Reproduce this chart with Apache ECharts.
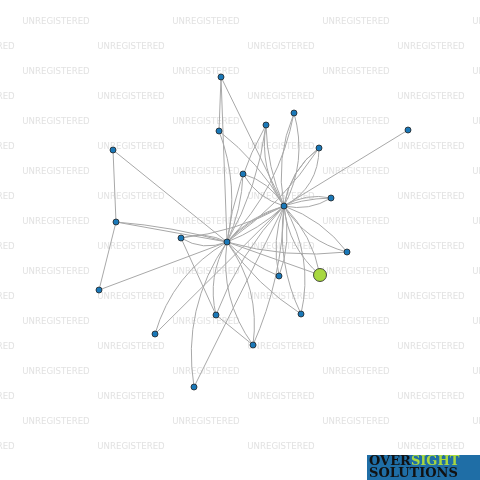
<!DOCTYPE html>
<html><head><meta charset="utf-8">
<script src="https://cdn.jsdelivr.net/npm/echarts@6/dist/echarts.min.js"></script>
<style>html,body{margin:0;background:#fff}#c{width:480px;height:480px}</style>
</head><body><div id="c"></div>
<script>
// node names and positions (pixel space of the picture)
var nodeNames = ['A','B','C','D','E','F','G','H','I','J','K','L','M','N','O','P','Q','R','S','T','U','V'];
var nodeX = [221,219,266,294,319,408,113,243,331,284,116,181,227,347,279,320,99,301,216,155,253,194];
var nodeY = [77,131,125,113,148,130,150,174,198,206,222,238,242,252,276,275,290,314,315,334,345,387];
var edgeList = [
  ['A','M'],['A','J'],['A','B'],['B','M'],['B','J'],['C','M'],['C','J'],['D','M'],['D','J'],
  ['E','M'],['E','J'],['F','J'],['G','K'],['G','M'],['H','J'],['H','M'],['I','J'],['I','M'],
  ['K','M'],['K','Q'],['L','M'],['L','J'],['L','S'],['N','J'],['N','M'],['O','J'],['O','M'],
  ['P','J'],['P','M'],['Q','M'],['R','J'],['R','M'],['S','J'],['S','M'],['T','M'],['T','J'],
  ['U','M'],['U','J'],['U','S'],['V','M'],['V','J'],['J','M'],
  ['C','J'],['D','J'],['E','J'],['E','J'],['I','J'],['H','J'],['O','J'],['P','J'],['R','J'],
  ['N','J'],['L','M'],['K','M'],['J','M'],['U','M'],['C','M']
];
var curves = [0,0,0,0.15,0.1,0.1,-0.1,0.15,0.2,0.1,-0.2,0,0,0,0.2,0.1,0.2,-0.2,0,0,0.2,-0.1,0,-0.15,0.1,0.15,0.1,0.2,0,0,0.15,0.1,0.1,0.2,0.2,0,0.2,-0.1,0,0.2,0,0.1,
  -0.2,-0.15,-0.2,0.3,-0.2,-0.2,-0.15,-0.15,-0.2,0.2,-0.25,0.05,-0.15,-0.2,-0.1];

var dom = document.getElementById('c');
var myChart = echarts.init(dom);

var nodes = nodeNames.map(function (n, i) {
  var big = n === 'P';
  return {
    name: n, value: [nodeX[i], nodeY[i]],
    symbolSize: big ? 13 : 6,
    itemStyle: {color: big ? '#a8d840' : '#1a78b8', borderColor: '#222', borderWidth: 0.8}
  };
});
var links = edgeList.map(function (e, i) {
  return {source: e[0], target: e[1], lineStyle: {curveness: curves[i]}};
});

// watermark grid
var graphics = [];
for (var r = 0; r < 18; r++) {
  var y = 22 + r * 25;
  var off = (r % 2 === 0) ? 56 : -19;
  for (var cx = off; cx < 560; cx += 150) {
    graphics.push({type: 'text', x: cx, y: y, z: 0,
      style: {text: 'UNREGISTERED', fill: '#e2e2e2', font: '8.6px DejaVu Sans', textAlign: 'center', textVerticalAlign: 'middle'}});
  }
}
graphics.push({type: 'rect', shape: {x: 367, y: 455, width: 113, height: 25}, style: {fill: '#1f6ea6'}, z: 10});
graphics.push({type: 'text', x: 369, y: 462, z: 11, style: {rich: {a: {fill: '#111', font: 'bold 13px "DejaVu Serif"'}, b: {fill: '#a8d840', font: 'bold 13px "DejaVu Serif"'}}, text: '{a|OVER}{b|SIGHT}', textVerticalAlign: 'middle'}});
graphics.push({type: 'text', x: 369, y: 474, z: 11, style: {text: 'SOLUTIONS', fill: '#111', font: 'bold 13px "DejaVu Serif"', textVerticalAlign: 'middle'}});

var option = {
  animation: false,
  graphic: graphics,
  grid: {left: 0, right: 0, top: 0, bottom: 0},
  xAxis: {type: 'value', min: 0, max: 480, show: false},
  yAxis: {type: 'value', min: 0, max: 480, inverse: true, show: false},
  series: [{
    type: 'graph',
    coordinateSystem: 'cartesian2d',
    z: 5,
    data: nodes,
    links: links,
    symbol: 'circle',
    lineStyle: {color: '#a8a8a8', width: 1, opacity: 1},
    label: {show: false}
  }]
};
myChart.setOption(option, true);
</script></body></html>
